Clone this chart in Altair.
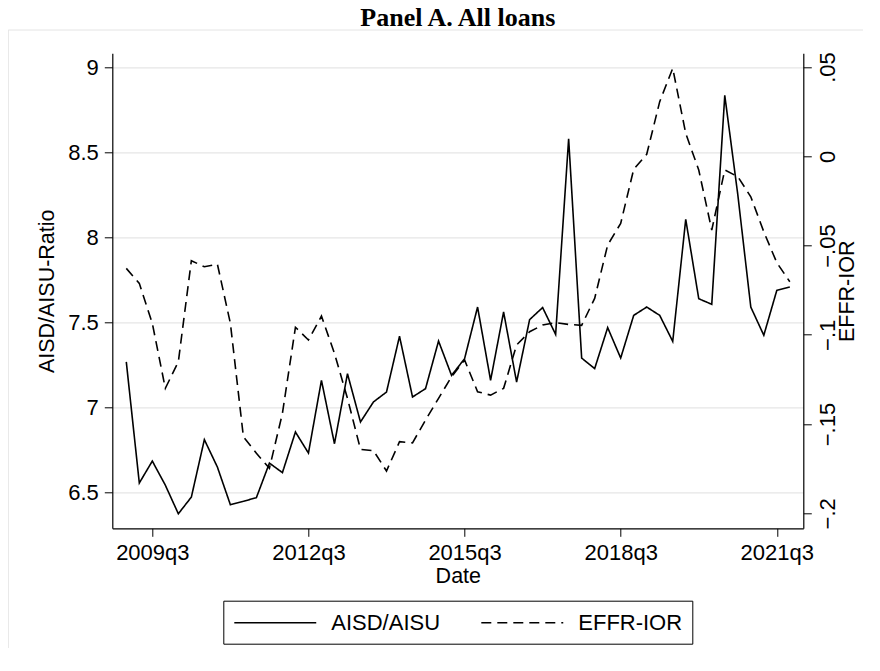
import altair as alt
import pandas as pd

# ---------------- data ----------------
chart_title = "Panel A. All loans"

quarters = [
    "2009q1", "2009q2", "2009q3", "2009q4",
    "2010q1", "2010q2", "2010q3", "2010q4",
    "2011q1", "2011q2", "2011q3", "2011q4",
    "2012q1", "2012q2", "2012q3", "2012q4",
    "2013q1", "2013q2", "2013q3", "2013q4",
    "2014q1", "2014q2", "2014q3", "2014q4",
    "2015q1", "2015q2", "2015q3", "2015q4",
    "2016q1", "2016q2", "2016q3", "2016q4",
    "2017q1", "2017q2", "2017q3", "2017q4",
    "2018q1", "2018q2", "2018q3", "2018q4",
    "2019q1", "2019q2", "2019q3", "2019q4",
    "2020q1", "2020q2", "2020q3", "2020q4",
    "2021q1", "2021q2", "2021q3", "2021q4",
]

aisd_aisu = [
    7.265, 6.553, 6.682, 6.540,
    6.372, 6.470, 6.808, 6.647,
    6.425, 6.445, 6.467, 6.670,
    6.614, 6.853, 6.729, 7.157,
    6.784, 7.196, 6.912, 7.030,
    7.088, 7.416, 7.059, 7.108,
    7.388, 7.186, 7.284, 7.588,
    7.157, 7.559, 7.147, 7.514,
    7.585, 7.427, 8.578, 7.288,
    7.226, 7.467, 7.288, 7.539,
    7.588, 7.539, 7.386, 8.104,
    7.637, 7.604, 8.833, 8.250,
    7.588, 7.422, 7.686, 7.706,
]

effr_ior = [
    -0.0628, -0.0712, -0.0936, -0.1300,
    -0.1151, -0.0585, -0.0619, -0.0604,
    -0.0936, -0.1571, -0.1664, -0.1748,
    -0.1440, -0.0958, -0.1029, -0.0895,
    -0.1104, -0.1356, -0.1642, -0.1649,
    -0.1763, -0.1599, -0.1605, -0.1478,
    -0.1356, -0.1235, -0.1141, -0.1319,
    -0.1338, -0.1300, -0.1057, -0.0983,
    -0.0945, -0.0932, -0.0942, -0.0947,
    -0.0796, -0.0497, -0.0376, -0.0073,
    0.0011, 0.0306, 0.0493, 0.0128,
    -0.0077, -0.0413, -0.0077, -0.0114,
    -0.0227, -0.0423, -0.0596, -0.0703,
]

series_names = ["AISD/AISU", "EFFR-IOR"]
x_tick_labels = ["2009q3", "2012q3", "2015q3", "2018q3", "2021q3"]
left_ticks = [6.5, 7, 7.5, 8, 8.5, 9]
right_ticks = [0.05, 0, -0.05, -0.1, -0.15, -0.2]


def qnum(label):
    y, q = label.split("q")
    return int(y) + (int(q) - 1) / 4


rows = []
for lab, a, e in zip(quarters, aisd_aisu, effr_ior):
    rows.append({"t": qnum(lab), "quarter": lab, "series": series_names[0], "value": a})
    rows.append({"t": qnum(lab), "quarter": lab, "series": series_names[1], "value": e})
df = pd.DataFrame(rows)

FONT = "Liberation Sans"
W, H = 691, 475

x_enc = alt.X(
    "t:Q",
    scale=alt.Scale(domain=[2008.731, 2022.009], nice=False, zero=False),
    axis=alt.Axis(
        values=[qnum(l) for l in x_tick_labels],
        labelExpr="floor(datum.value) + 'q' + (round((datum.value - floor(datum.value)) * 4) + 1)",
        title="Date",
        titleX=W / 2,
        titleY=54.7,
        titleAlign="center",
        titleBaseline="alphabetic",
        titleFont=FONT,
        titleFontSize=21.5,
        titleFontWeight="normal",
        titleColor="black",
        labelFont=FONT,
        labelFontSize=22,
        labelColor="black",
        labelPadding=6,
        labelFlush=False,
        labelOverlap=False,
        tickSize=8,
        tickColor="black",
        tickWidth=1,
        domainColor="black",
        domainWidth=1.2,
        grid=False,
    ),
)

dash_scale = alt.Scale(domain=series_names, range=[[1, 0], [10, 6]])
legend = alt.Legend(
    orient="none",
    legendX=111,
    legendY=547.4,
    direction="horizontal",
    title=None,
    strokeColor="black",
    fillColor="white",
    padding=10,
    labelFont=FONT,
    labelFontSize=22,
    labelColor="black",
    labelOffset=74,
    columnPadding=37,
    symbolType="M-1,0L6.45,0",
    symbolSize=484,
    symbolStrokeWidth=1.6,
    symbolStrokeColor="black",
)

base = alt.Chart(df)

solid = base.transform_filter(alt.datum.series == series_names[0]).mark_line(
    color="black", strokeWidth=1.6
).encode(
    x=x_enc,
    y=alt.Y(
        "value:Q",
        scale=alt.Scale(domain=[6.2865, 9.0806], nice=False, zero=False),
        axis=alt.Axis(
            values=left_ticks,
            format=".1~f",
            title="AISD/AISU-Ratio",
            titleX=-59,
            titleY=H / 2,
            titleAngle=270,
            titleAlign="center",
            titleBaseline="alphabetic",
            titleFont=FONT,
            titleFontSize=21.5,
            titleFontWeight="normal",
            titleColor="black",
            labelFont=FONT,
            labelFontSize=22,
            labelColor="black",
            labelPadding=6,
            labelFlush=False,
            labelOverlap=False,
            tickSize=8,
            tickColor="black",
            tickWidth=1,
            domainColor="black",
            domainWidth=1.2,
            grid=True,
            gridColor="#e6e6e6",
            gridWidth=1.2,
        ),
    ),
    strokeDash=alt.StrokeDash("series:N", scale=dash_scale, legend=legend),
)

dashed = base.transform_filter(alt.datum.series == series_names[1]).mark_line(
    color="black", strokeWidth=1.6
).encode(
    x=x_enc,
    y=alt.Y(
        "value:Q",
        scale=alt.Scale(domain=[-0.2084, 0.05768], nice=False, zero=False),
        axis=alt.Axis(
            orient="right",
            values=right_ticks,
            labelExpr="replace(format(datum.value, '.2~f'), '0.', '.')",
            labelAngle=270,
            labelAlign="center",
            labelBaseline="top",
            title="EFFR-IOR",
            titleX=50.7,
            titleY=H / 2,
            titleAngle=270,
            titleAlign="center",
            titleBaseline="alphabetic",
            titleFont=FONT,
            titleFontSize=21.5,
            titleFontWeight="normal",
            titleColor="black",
            labelFont=FONT,
            labelFontSize=22,
            labelColor="black",
            labelPadding=6,
            labelFlush=False,
            labelOverlap=False,
            tickSize=8,
            tickColor="black",
            tickWidth=1,
            domainColor="black",
            domainWidth=1.2,
            grid=False,
        ),
    ),
    strokeDash=alt.StrokeDash("series:N", scale=dash_scale, legend=legend),
)

one_row = alt.Data(values=[{"f": 1}])

# light graph-region frame (decoration)
frame = alt.Chart(one_row).mark_rect(
    fillOpacity=0, stroke="#e4e4e4", strokeWidth=1
).encode(
    x=alt.value(-104),
    y=alt.value(-23.3),
    x2=alt.value(900),
    y2=alt.value(700),
)

# chart heading
heading = alt.Chart(one_row).mark_text(
    font="Liberation Serif",
    fontSize=26,
    fontWeight="bold",
    color="black",
    align="center",
    baseline="alphabetic",
).encode(
    x=alt.value(W / 2),
    y=alt.value(-27.3),
    text=alt.value(chart_title),
)

chart = alt.layer(frame, heading, solid, dashed).resolve_scale(y="independent").properties(
    width=W,
    height=H,
    padding={"left": 104.3, "top": 45.3, "right": 60, "bottom": 120},
    autosize=alt.AutoSizeParams(type="none"),
    background="white",
).configure_view(strokeWidth=0)

chart.save("out.html", embed_options={"renderer": "svg", "actions": False})
